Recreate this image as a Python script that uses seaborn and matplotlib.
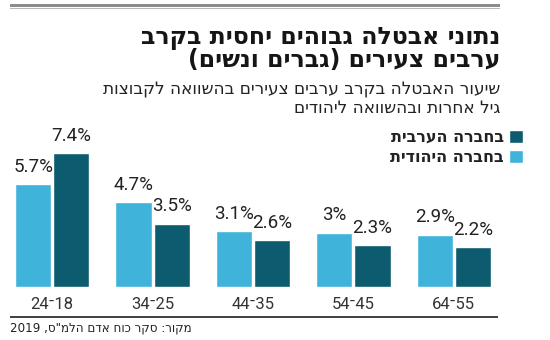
import re
import matplotlib
matplotlib.use("Agg")
import matplotlib.pyplot as plt
from matplotlib.patches import Rectangle
import pandas as pd
import seaborn as sns

# ---- data ----
ages = ["24־18", "34־25", "44־35", "54־45", "64־55"]
jewish = [5.7, 4.7, 3.1, 3.0, 2.9]
arab = [7.4, 3.5, 2.6, 2.3, 2.2]
jewish_labels = ["5.7%", "4.7%", "3.1%", "3%", "2.9%"]
arab_labels = ["7.4%", "3.5%", "2.6%", "2.3%", "2.2%"]
jewish_name = "בחברה היהודית"
arab_name = "בחברה הערבית"
title_lines = ["נתוני אבטלה גבוהים יחסית בקרב", "ערבים צעירים (גברים ונשים)"]
subtitle_lines = ["שיעור האבטלה בקרב ערבים צעירים בהשוואה לקבוצות", "גיל אחרות ובהשוואה ליהודים"]
source = "מקור: סקר כוח אדם הלמ\"ס, 2019"

LIGHT = "#3fb3d9"
DARK = "#0d5b6e"


def rtl(s):
    """Convert logical-order Hebrew to visual order for LTR rendering."""
    swap = {"(": ")", ")": "("}
    r = "".join(swap.get(c, c) for c in s[::-1])
    return re.sub(r"\d[\d.,]*\d|\d", lambda m: m.group(0)[::-1], r)


df = pd.DataFrame({
    "age": ages * 2,
    "group": [jewish_name] * len(ages) + [arab_name] * len(ages),
    "value": jewish + arab,
})

sns.set_theme(style="white")
plt.rcParams["font.family"] = ["DejaVu Sans"]

W, H = 550, 340
fig = plt.figure(figsize=(W / 100, H / 100), dpi=100)
fig.patch.set_facecolor("white")

px = 18.07  # pixels per percent
ax = fig.add_axes([2 / W, (H - 287) / H, 502 / W, 8 * px / H])
sns.barplot(data=df, x="age", y="value", hue="group",
            hue_order=[jewish_name, arab_name], palette=[LIGHT, DARK],
            order=ages, width=0.76, gap=0.05, saturation=1,
            legend=False, ax=ax)
ax.set_xlim(-0.5, 4.5)
ax.set_ylim(0, 8)
ax.set_xlabel("")
ax.set_ylabel("")
ax.set_yticks([])
for s in ax.spines.values():
    s.set_visible(False)
ax.tick_params(axis="x", length=0, pad=7, labelsize=12, colors="#333333")
for lbl in ax.get_xticklabels():
    lbl.set_fontfamily(["Roboto", "DejaVu Sans"])

for cont, labs in zip(ax.containers, [jewish_labels, arab_labels]):
    ax.bar_label(cont, labels=labs, padding=6, fontsize=13.5,
                 fontfamily="Roboto", color="#222222")

# decorative rules in figure pixel units
def rule(x0, x1, y, h, color):
    fig.patches.append(Rectangle((x0 / W, 1 - (y + h) / H), (x1 - x0) / W, h / H,
                                 transform=fig.transFigure, figure=fig,
                                 facecolor=color, edgecolor="none", zorder=10))

rule(10, 500, 4.5, 2.2, "#8c8c8c")
rule(10, 500, 7.8, 1.2, "#b8b8b8")
rule(10, 498, 316.0, 1.8, "#444444")

# legend (dark first, text left of swatch)
handles = [ax.containers[1].patches[0], ax.containers[0].patches[0]]
leg = fig.legend(handles=handles, labels=[rtl(arab_name), rtl(jewish_name)],
                 markerfirst=False, frameon=False, loc="upper right",
                 bbox_to_anchor=(523 / W, 1 - 130 / H),
                 prop={"size": 11.5, "weight": "bold", "family": "DejaVu Sans"},
                 handlelength=0.85, handleheight=0.85, handletextpad=0.35,
                 labelspacing=0.3, borderpad=0, borderaxespad=0)
for t in leg.get_texts():
    t.set_color("#222222")

# titles
for txt, y in zip(title_lines, [44, 67]):
    fig.text(500 / W, 1 - y / H, rtl(txt), ha="right", va="baseline",
             fontsize=17, fontweight="bold", color="#151515")
for txt, y in zip(subtitle_lines, [94, 113]):
    fig.text(500 / W, 1 - y / H, rtl(txt), ha="right", va="baseline",
             fontsize=12.2, color="#222222")

fig.text(10 / W, 1 - 332 / H, rtl(source), ha="left", va="baseline",
         fontsize=8.6, color="#222222")

fig.savefig("out.png", dpi=100)
